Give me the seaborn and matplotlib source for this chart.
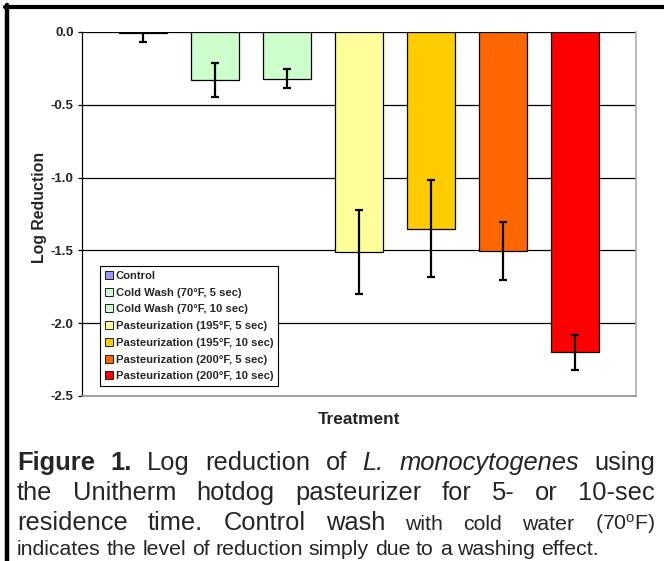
import numpy as np
import pandas as pd
import matplotlib
matplotlib.use("Agg")
import matplotlib.pyplot as plt
import seaborn as sns
from matplotlib.lines import Line2D

treatments = ["Control", "Cold Wash (70\u00b0F, 5 sec)", "Cold Wash (70\u00b0F, 10 sec)",
              "Pasteurization (195\u00b0F, 5 sec)", "Pasteurization (195\u00b0F, 10 sec)",
              "Pasteurization (200\u00b0F, 5 sec)", "Pasteurization (200\u00b0F, 10 sec)"]
log_reduction = [-0.005, -0.33, -0.32, -1.51, -1.35, -1.505, -2.20]
std_err = [0.065, 0.115, 0.065, 0.29, 0.335, 0.20, 0.12]
colors = ["#9999FF", "#CCFFCC", "#CCFFCC", "#FFFF99", "#FFCC00", "#FF6600", "#FF0000"]
y_ticks = [0.0, -0.5, -1.0, -1.5, -2.0, -2.5]

sns.set_theme(style="white")
plt.rcParams['font.family'] = ['Liberation Sans', 'DejaVu Sans']
plt.rcParams['mathtext.fontset'] = 'custom'
plt.rcParams['mathtext.rm'] = 'Liberation Sans'
plt.rcParams['mathtext.it'] = 'Liberation Sans:italic'

W, H = 664, 561
fig = plt.figure(figsize=(W / 100, H / 100), dpi=100)
ax = fig.add_axes([82 / W, 1 - 396 / H, (636 - 82) / W, (396 - 32) / H])

df = pd.DataFrame({"Treatment": treatments, "Log": log_reduction})
sns.barplot(data=df, x="Treatment", y="Log", hue="Treatment", palette=colors,
            order=treatments, hue_order=treatments, dodge=False, width=0.667,
            saturation=1, edgecolor="black", linewidth=0.9, ax=ax, legend=True)

xs = np.arange(len(treatments))
ax.errorbar(xs, log_reduction, yerr=std_err, fmt="none", ecolor="black",
            elinewidth=1.6, capsize=3, capthick=1.6, zorder=5, clip_on=True)

ax.set_ylim(-2.5, 0.0)
ax.set_xlim(-0.847, 6.847)
ax.set_yticks(y_ticks)
ax.set_yticklabels([f"{t:.1f}" for t in y_ticks], fontsize=9.5, fontweight="bold")
ax.set_xticks([])
for t in y_ticks:
    ax.axhline(t, color="black", linewidth=0.9, zorder=0.5)
ax.tick_params(axis="y", direction="out", length=3, width=0.9, color="black", pad=3, left=True)
ax.spines["left"].set_color("black")
ax.spines["left"].set_linewidth(0.9)
ax.spines["top"].set_visible(False)
ax.spines["right"].set_color("#B0B0B0")
ax.spines["right"].set_linewidth(1.2)
ax.spines["bottom"].set_color("#909090")
ax.spines["bottom"].set_linewidth(1.2)

ax.set_ylabel("Log Reduction", fontsize=11.4, fontweight="bold")
ax.yaxis.set_label_coords(-0.063, 0.518)
ax.set_xlabel("Treatment", fontsize=12.4, fontweight="bold")
ax.xaxis.set_label_coords(0.5, -0.044)

handles, labels = ax.get_legend_handles_labels()
leg = ax.legend(handles, labels, loc="lower left", bbox_to_anchor=(0.0325, 0.0275),
                borderaxespad=0, prop={"weight": "bold", "size": 8.1},
                frameon=True, fancybox=False, edgecolor="black", framealpha=1,
                handlelength=0.7, handleheight=0.7, handletextpad=0.3,
                labelspacing=0.6, borderpad=0.42)
leg.get_frame().set_linewidth(0.8)
for p in leg.get_patches():
    p.set_edgecolor("black")
    p.set_linewidth(0.6)

# frame borders
fig.add_artist(Line2D([7 / W, 7 / W], [0, 1 - 5 / H], transform=fig.transFigure,
                      color="black", linewidth=3.2))
fig.add_artist(Line2D([5 / W, 1], [1 - 6.5 / H, 1 - 6.5 / H], transform=fig.transFigure,
                      color="black", linewidth=3.0))

# caption (justified)
renderer = fig.canvas.get_renderer()
BIG = 18.4
SMALL = 15.3


def draw_line(runs, y_px, x0, x1, justify=True):
    texts = []
    for (s, size, weight, style) in runs:
        t = fig.text(0, 1 - y_px / H, s, fontsize=size, fontweight=weight, fontstyle=style,
                     va="baseline", ha="left", transform=fig.transFigure)
        texts.append(t)
    widths = [t.get_window_extent(renderer).width for t in texts]
    total = sum(widths)
    n = len(texts)
    gap = (x1 - x0 - total) / (n - 1) if (justify and n > 1) else None
    x = x0
    for t, w, r in zip(texts, widths, runs):
        t.set_x(x / W)
        x += w + (gap if gap is not None else r[1] * 100 / 72 * 0.278)


line1 = [("Figure", BIG, "bold", "normal"), ("1.", BIG, "bold", "normal"),
         ("Log", BIG, "normal", "normal"), ("reduction", BIG, "normal", "normal"),
         ("of", BIG, "normal", "normal"), ("L.", BIG, "normal", "italic"),
         ("monocytogenes", BIG, "normal", "italic"), ("using", BIG, "normal", "normal")]
line2 = [(w, BIG, "normal", "normal") for w in
         "the Unitherm hotdog pasteurizer for 5- or 10-sec".split()]
line3 = [(w, BIG, "normal", "normal") for w in "residence time. Control wash".split()] + \
        [(w, SMALL, "normal", "normal") for w in ["with", "cold", "water", r"(70$^{\mathrm{o}}$F)"]]
line4 = [(w, SMALL, "normal", "normal") for w in
         "indicates the level of reduction simply due to a washing effect.".split()]

draw_line(line1, 470, 17, 655)
draw_line(line2, 500, 17, 655)
draw_line(line3, 530, 17, 655)
draw_line(line4, 555, 17, 655, justify=False)

fig.savefig("out.png", dpi=100)
